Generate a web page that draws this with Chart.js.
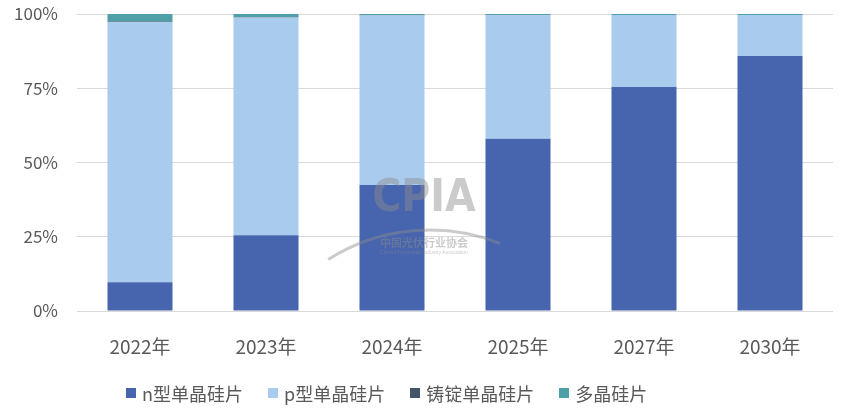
<!DOCTYPE html>
<html>
<head>
<meta charset="utf-8">
<script src="https://cdn.jsdelivr.net/npm/chart.js@4.4.1/dist/chart.umd.min.js"></script>
<style>
  html, body { margin: 0; padding: 0; background: #fff; }
  #wrap { position: relative; width: 848px; height: 417px; }
  #legend {
    position: absolute; left: 126px; top: 382px;
    display: flex; gap: 25px;
    font-family: "Noto Sans CJK SC", "Noto Sans", sans-serif;
    font-size: 18px; color: #595959; line-height: 22px;
  }
  #legend span.item { display: flex; align-items: center; }
  #legend i { display: inline-block; width: 10px; height: 10px; margin-right: 6px; }
</style>
</head>
<body>
<div id="wrap">
  <canvas id="chartContainer" width="848" height="417"></canvas>
  <div id="legend"></div>
</div>
<script>
const categories = ['2022年', '2023年', '2024年', '2025年', '2027年', '2030年'];
const nType = [9.7, 25.5, 42.4, 58.0, 75.4, 85.9];
const pType = [87.6, 73.3, 57.1, 41.6, 24.3, 13.8];
const castMono = [0.2, 0.2, 0.1, 0.1, 0.0, 0.0];
const multi = [2.5, 1.0, 0.4, 0.3, 0.3, 0.3];
const yTicks = [0, 25, 50, 75, 100];

const seriesNames = ['n型单晶硅片', 'p型单晶硅片', '铸锭单晶硅片', '多晶硅片'];
const colors = ['#4764AE', '#A9CBEE', '#44546A', '#4E9FA7'];

// watermark like the CPIA logo
const watermark = {
    id: 'watermark',
    afterDatasetsDraw(chart) {
        const ctx = chart.ctx;
        ctx.save();
        ctx.fillStyle = 'rgba(140,140,140,0.45)';
        ctx.textAlign = 'center';
        ctx.textBaseline = 'middle';
        ctx.font = 'bold 44px "DejaVu Sans Condensed", "Liberation Sans Narrow", sans-serif';
        ctx.fillText('CPIA', 424, 200);
        ctx.strokeStyle = 'rgba(140,140,140,0.45)';
        ctx.lineWidth = 3;
        ctx.beginPath();
        ctx.arc(430, 420, 190, Math.PI * 1.32, Math.PI * 1.62);
        ctx.stroke();
        ctx.font = 'bold 11px "Noto Sans CJK SC", sans-serif';
        ctx.fillText('中国光伏行业协会', 424, 243);
        ctx.font = '5px sans-serif';
        ctx.fillText('China Photovoltaic Industry Association', 424, 253);
        ctx.restore();
    }
};

const ctx = document.getElementById('chartContainer').getContext('2d');
new Chart(ctx, {
    type: 'bar',
    data: {
        labels: categories,
        datasets: [nType, pType, castMono, multi].map((d, i) => ({
            label: seriesNames[i],
            data: d,
            backgroundColor: colors[i],
            borderWidth: 0,
            barPercentage: 1,
            categoryPercentage: 0.516
        }))
    },
    options: {
        responsive: false,
        animation: false,
        layout: { padding: { left: 0, right: 15, top: 14, bottom: 50 } },
        plugins: {
            legend: { display: false },
            tooltip: { enabled: false }
        },
        scales: {
            x: {
                stacked: true,
                grid: { display: false, drawTicks: false },
                border: { display: false },
                ticks: {
                    padding: 24,
                    color: '#595959',
                    font: { family: '"Noto Sans CJK SC", "Noto Sans", sans-serif', size: 19 }
                },
                afterFit(scale) { scale.height = 56; }
            },
            y: {
                stacked: true,
                min: 0,
                max: 100,
                afterBuildTicks(scale) { scale.ticks = yTicks.map(v => ({ value: v })); },
                grid: { color: '#D9D9D9', lineWidth: 1, drawTicks: true, tickLength: 19, tickColor: 'rgba(0,0,0,0)' },
                border: { display: false },
                ticks: {
                    padding: 0,
                    color: '#595959',
                    font: { family: '"Noto Sans CJK SC", "Noto Sans", sans-serif', size: 17 },
                    callback: v => v + '%'
                },
                afterFit(scale) { scale.width = 77; }
            }
        }
    },
    plugins: [watermark]
});

const legend = document.getElementById('legend');
seriesNames.forEach((name, i) => {
    const item = document.createElement('span');
    item.className = 'item';
    item.innerHTML = '<i style="background:' + colors[i] + '"></i>' + name;
    legend.appendChild(item);
});
</script>
</body>
</html>
